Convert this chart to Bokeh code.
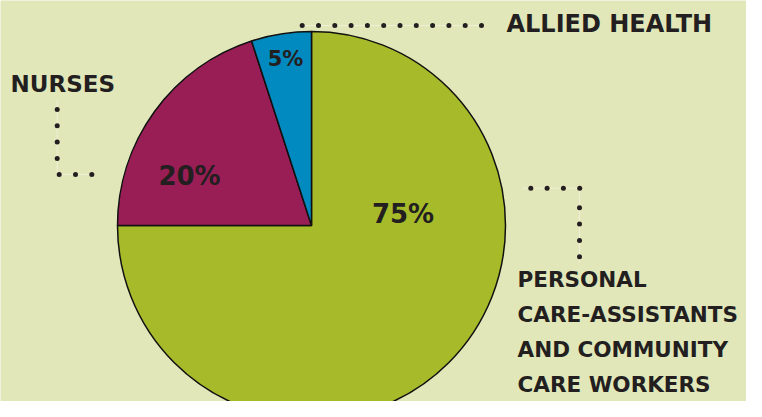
import numpy as np
from bokeh.plotting import figure
from bokeh.models import Range1d, ColumnDataSource
from bokeh.core.properties import value
from bokeh.embed import file_html
from bokeh.resources import INLINE

# ---- data ----
categories = ["Personal care-assistants and community care workers", "Nurses", "Allied health"]
shares = [75, 20, 5]
slice_colors = ["#a7bb2a", "#981e55", "#008ac0"]
pct_labels = [f"{s}%" for s in shares]
label_lines = [["PERSONAL", "CARE-ASSISTANTS", "AND COMMUNITY", "CARE WORKERS"], ["NURSES"], ["ALLIED HEALTH"]]

# ---- layout (reference pixel coords; converted to plot coords) ----
W, H = 746, 401
BG = "#e1e7b8"
INK = "#231f20"
FONT = "DejaVu Sans"
TXT_DY = 8.5  # compensation for svg baseline rendering

def fx(X):
    return X

def fy(Y):
    return H - Y

def ft(Y):
    return H - (Y - TXT_DY)

p = figure(width=W, height=H, output_backend="svg", toolbar_location=None,
           x_range=Range1d(0, W), y_range=Range1d(0, H), min_border=0)
p.axis.visible = False
p.grid.visible = False
p.outline_line_color = None
p.background_fill_color = BG
p.border_fill_color = BG

# pie: starts at 12 o'clock, goes clockwise
cx, cy, r = 311, 225, 194
tot = float(sum(shares))
cum = np.concatenate([[0], np.cumsum(shares)]) / tot
starts = np.pi / 2 - 2 * np.pi * cum[:-1]
ends = np.pi / 2 - 2 * np.pi * cum[1:]
src = ColumnDataSource(dict(start=starts, end=ends, color=slice_colors, cat=categories))
p.wedge(x=fx(cx), y=fy(cy), radius=r, start_angle="start", end_angle="end",
        direction="clock", fill_color="color", line_color="#111111", line_width=1.5, source=src)

# percentage labels (baseline positions)
pct_pos = [(402.5, 221.5, "26px"), (189, 183.5, "26px"), (285, 66.5, "21px")]
for lab, (X, Y, fs) in zip(pct_labels, pct_pos):
    p.text(x=[fx(X)], y=[ft(Y)], text=[lab], text_font=value(FONT), text_font_style="bold",
           text_font_size=fs, text_color=INK, text_align="center", text_baseline="alphabetic")

# category labels
# personal block
blk_x, blk_y0, blk_dy = 517, 287, 35.3
for i, line in enumerate(label_lines[0]):
    p.text(x=[fx(blk_x)], y=[ft(blk_y0 + i * blk_dy)], text=[line], text_font=value(FONT),
           text_font_style="bold", text_font_size="21.5px", text_color=INK,
           text_align="left", text_baseline="alphabetic")
p.text(x=[fx(10)], y=[ft(92.3)], text=label_lines[1], text_font=value(FONT), text_font_style="bold",
       text_font_size="23px", text_color=INK, text_align="left", text_baseline="alphabetic")
p.text(x=[fx(506)], y=[ft(32.3)], text=label_lines[2], text_font=value(FONT), text_font_style="bold",
       text_font_size="24px", text_color=INK, text_align="left", text_baseline="alphabetic")

# dotted leaders
step = 16.3
dots_x, dots_y = [], []
# allied health: horizontal row
for X in 301.7 + step * np.arange(12):
    dots_x.append(X); dots_y.append(25)
# nurses: vertical then horizontal
for Y in 109 + step * np.arange(4):
    dots_x.append(56.7); dots_y.append(Y)
for X in 58.7 + step * np.arange(3):
    dots_x.append(X); dots_y.append(174)
# personal: horizontal then vertical
for X in 530.3 + step * np.arange(4):
    dots_x.append(X); dots_y.append(187.7)
for Y in 207.3 + step * np.arange(4):
    dots_x.append(579); dots_y.append(Y)

# faint guide lines behind dots
faint = "#eef1d6"
p.line([fx(301.7), fx(481)], [fy(25), fy(25)], line_color=faint, line_width=1)
p.line([fx(56.7), fx(56.7), fx(91.3)], [fy(100), fy(174), fy(174)], line_color=faint, line_width=1)
p.line([fx(522), fx(579), fx(579)], [fy(187.7), fy(187.7), fy(262)], line_color=faint, line_width=1)

p.scatter(x=[fx(v) for v in dots_x], y=[fy(v) for v in dots_y], size=5,
          fill_color=INK, line_color=None)

open("out.html", "w").write(file_html(p, INLINE))
